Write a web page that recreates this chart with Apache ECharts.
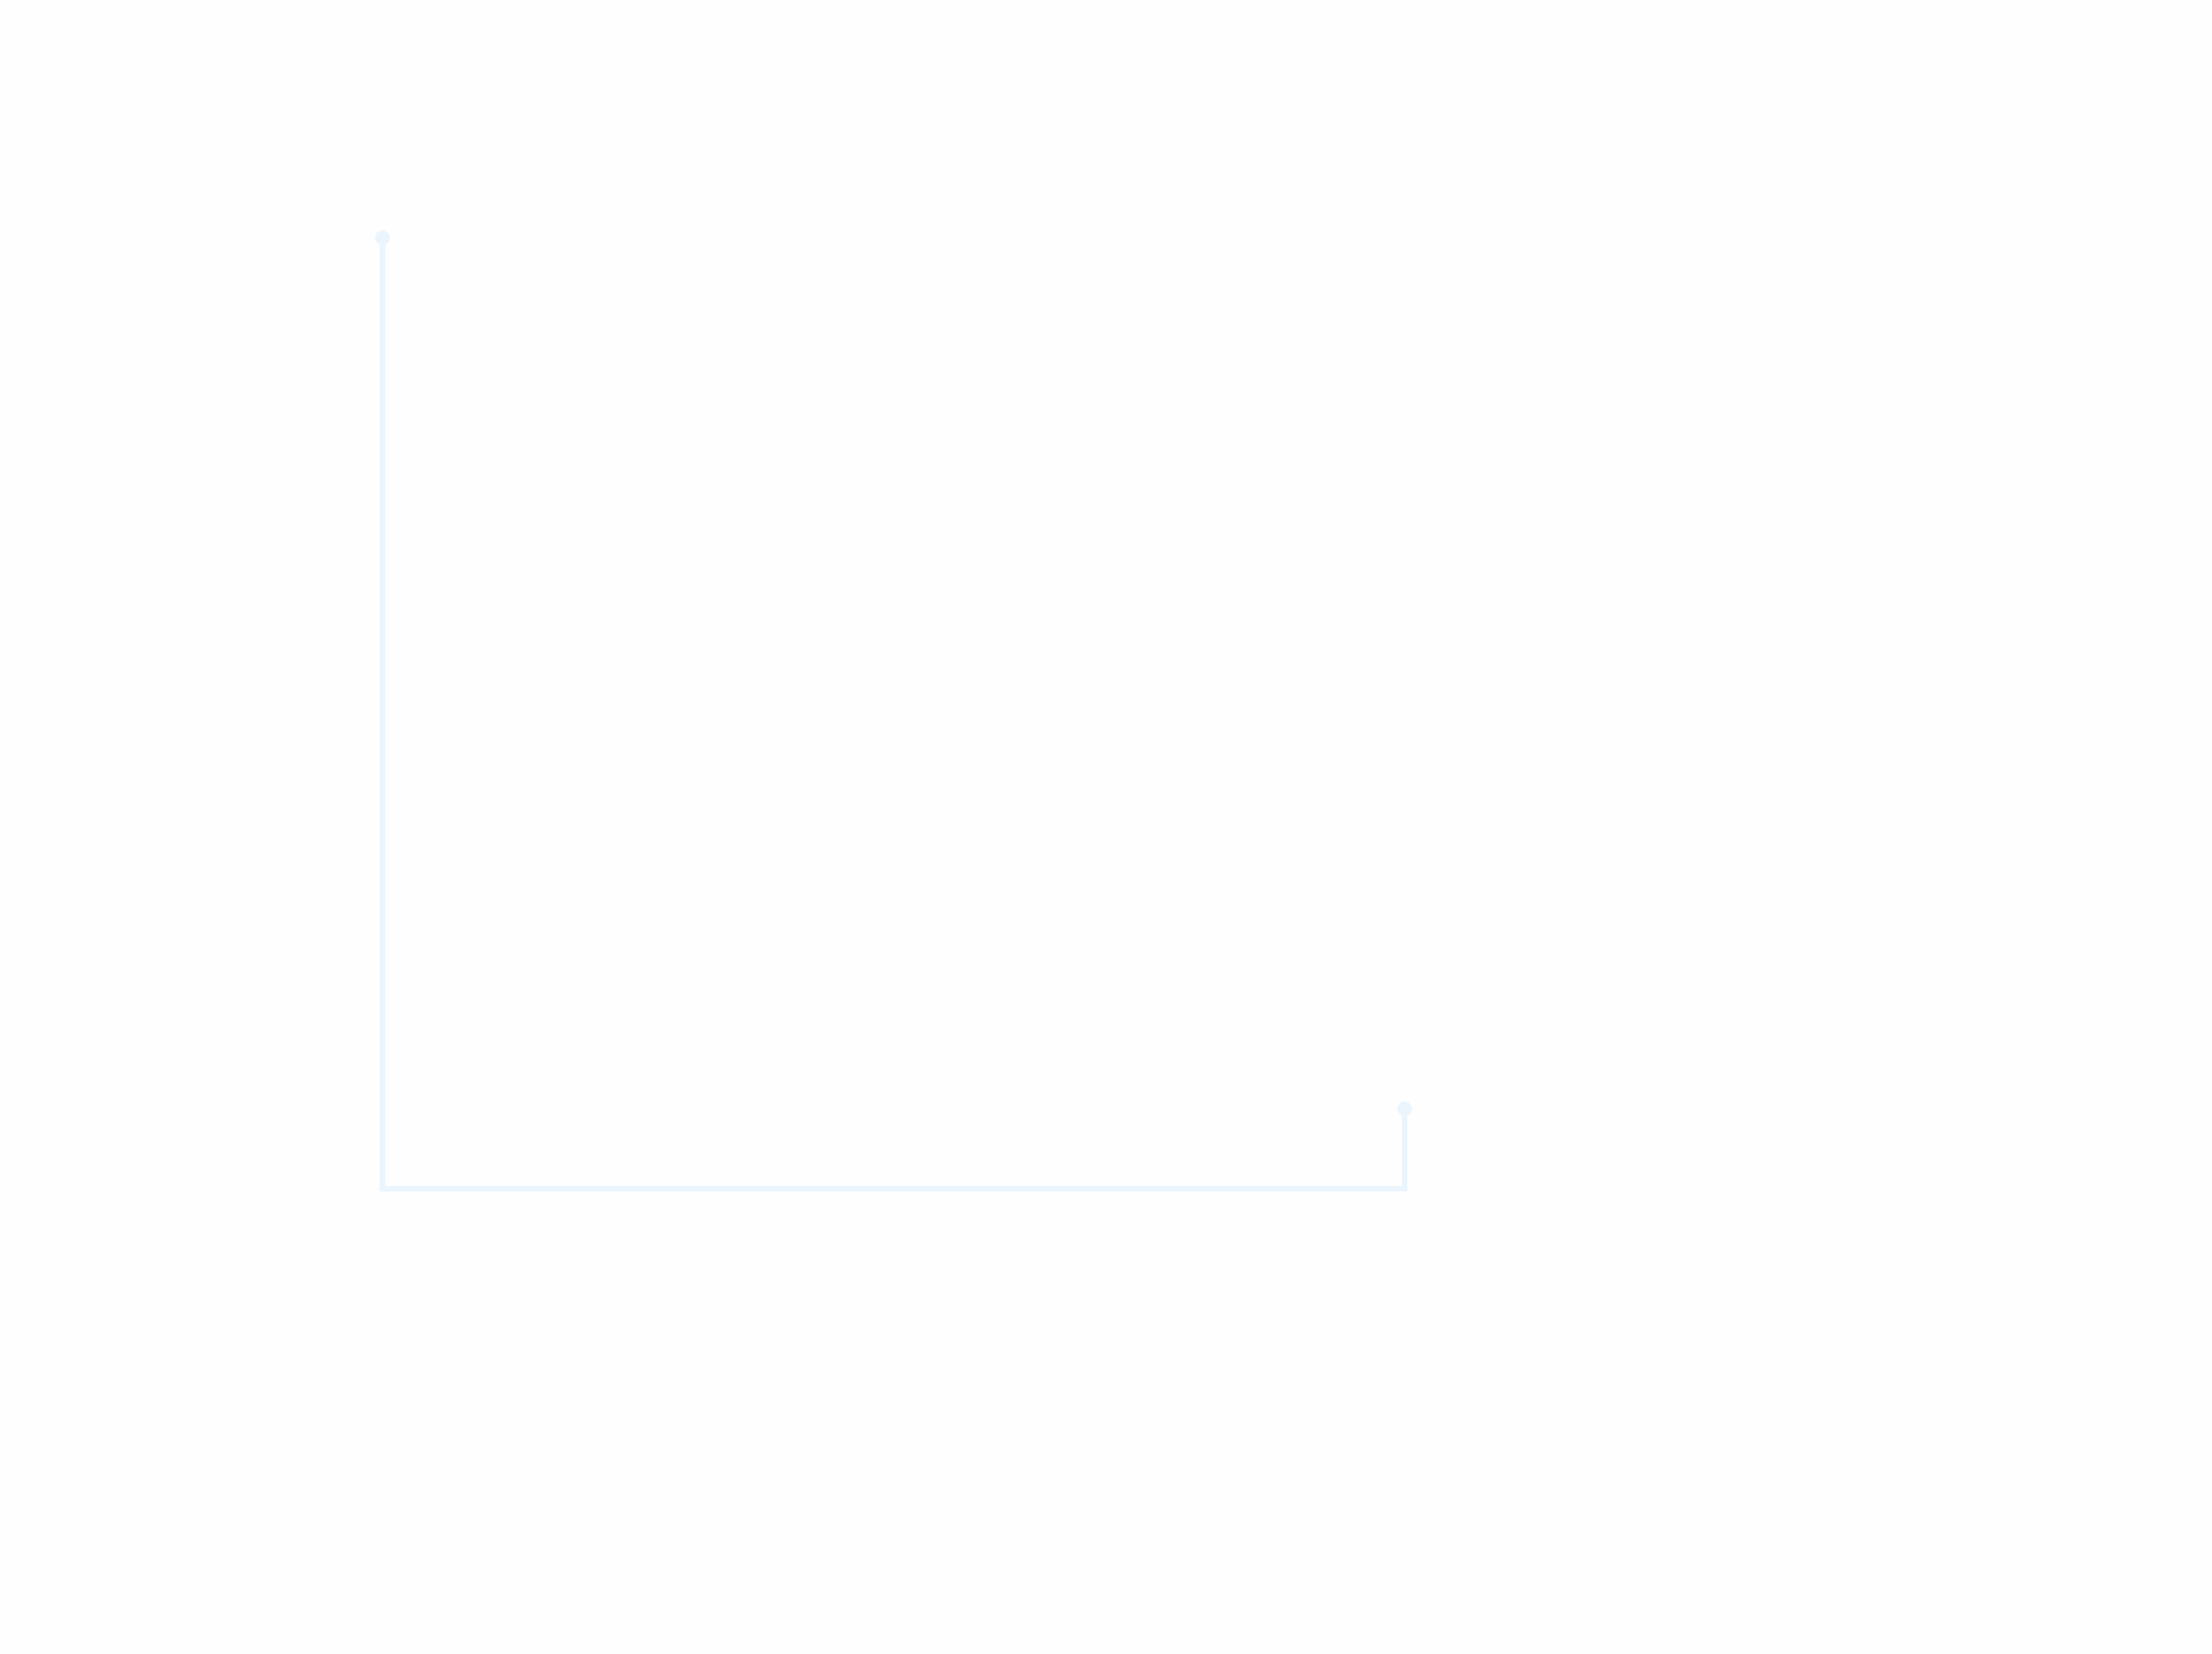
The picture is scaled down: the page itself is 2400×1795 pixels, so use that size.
<!DOCTYPE html>
<html>
<head>
<meta charset="utf-8">
<script src="https://cdn.jsdelivr.net/npm/echarts@6/dist/echarts.min.js"></script>
<style>
html,body{margin:0;padding:0;background:#fefefe;}
#chart{width:2400px;height:1795px;}
</style>
</head>
<body>
<div id="chart"></div>
<script>
const xValues = [0, 0, 1, 1];
const yValues = [100, 0, 0, 8.4];
const showMarker = [true, false, false, true];

const chart = echarts.init(document.getElementById('chart'));
const data = xValues.map((x, i) => ({
  value: [x, yValues[i]],
  symbol: showMarker[i] ? 'circle' : 'none'
}));
chart.setOption({
  backgroundColor: '#fefefe',
  animation: false,
  grid: { left: 415, right: 876, top: 258, bottom: 505 },
  xAxis: { type: 'value', min: 0, max: 1, show: false },
  yAxis: { type: 'value', min: 0, max: 100, show: false },
  series: [{
    type: 'line',
    data: data,
    symbolSize: 16,
    itemStyle: { color: '#ebf5fe' },
    lineStyle: { color: '#ebf5fe', width: 6, join: 'miter', cap: 'square' }
  }]
});
</script>
</body>
</html>
